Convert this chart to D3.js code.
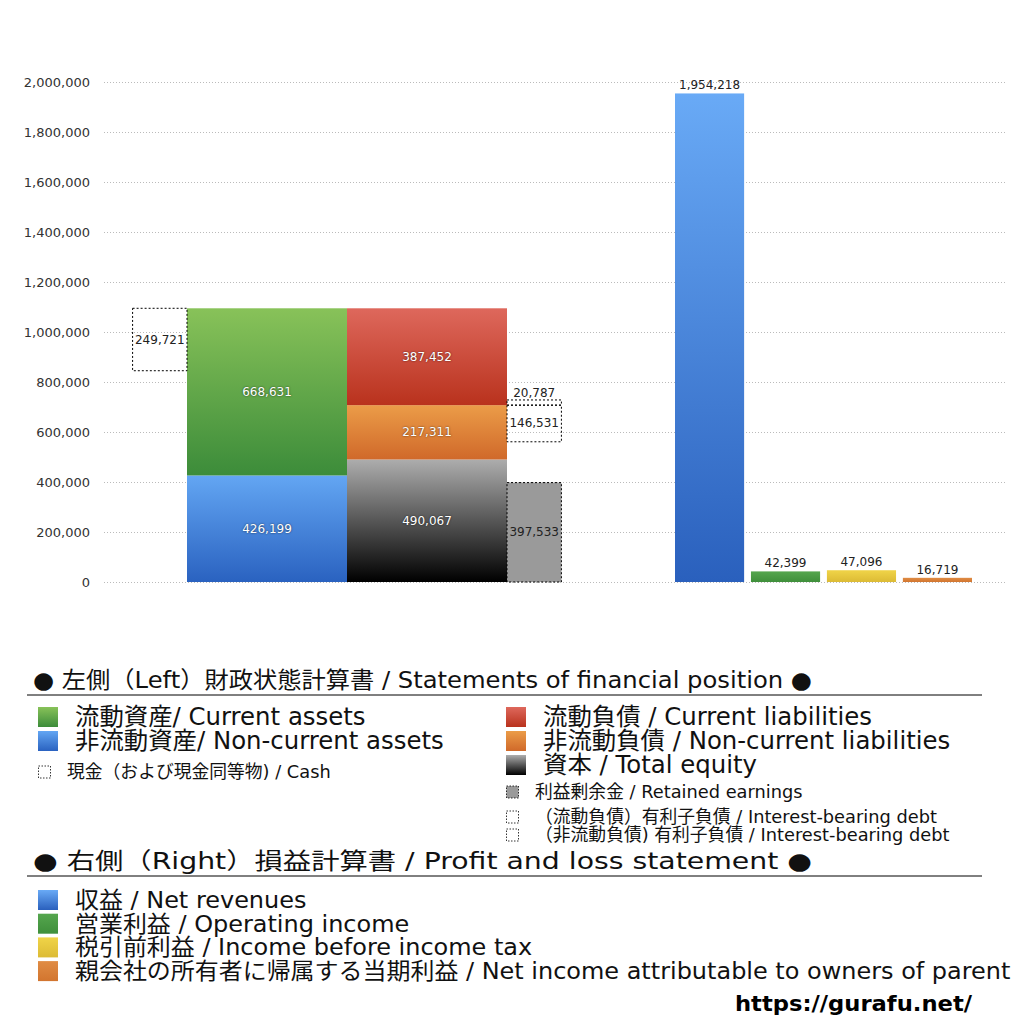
<!DOCTYPE html>
<html>
<head>
<meta charset="utf-8">
<script src="https://cdn.jsdelivr.net/npm/d3@7"></script>
<style>
  body { margin: 0; background: #fff; }
  svg { font-family: "DejaVu Sans", "Noto Sans CJK JP", sans-serif; }
</style>
</head>
<body>
<svg id="chart" width="1024" height="1024"></svg>
<script>
// balance sheet (left)
bsColumns = ["assets", "liabilities"];
assetNames = ["非流動資産/ Non-current assets", "流動資産/ Current assets"];
assetValues = [426199, 668631];
liabNames = ["資本 / Total equity", "非流動負債 / Non-current liabilities", "流動負債 /  Current liabilities"];
liabValues = [490067, 217311, 387452];
cashValue = 249721;
retainedValue = 397533;
debtCurrentValue = 20787;
debtNonCurrentValue = 146531;

// profit and loss (right)
plNames = ["収益 / Net revenues", "営業利益 / Operating income", "税引前利益 / Income before income tax", "親会社の所有者に帰属する当期利益 / Net income attributable to owners of parent"];
plValues = [1954218, 42399, 47096, 16719];

yTicks = [0, 200000, 400000, 600000, 800000, 1000000, 1200000, 1400000, 1600000, 1800000, 2000000];

margin = {top: 82, right: 19, bottom: 442, left: 104};
W = 1024; H = 1024;

const svg = d3.select("#chart");
const fmt = d3.format(",");

// gradients
const grads = {
    green: ["#88c259", "#3c8c3a"],
    blue: ["#63a6f3", "#2a62c0"],
    red: ["#de685c", "#b9321d"],
    orange: ["#eb9c48", "#d0692a"],
    black: ["#adadad", "#000000"],
    plBlue: ["#69aaf6", "#2a60bd"],
    plGreen: ["#55a64e", "#3f8f3b"],
    plYellow: ["#f0d448", "#dcbb35"],
    plOrange: ["#e08c44", "#d2752f"]
};
const defs = svg.append("defs");
Object.entries(grads).forEach(([k, c]) => {
    const g = defs.append("linearGradient").attr("id", "g-" + k)
        .attr("x1", 0).attr("y1", 0).attr("x2", 0).attr("y2", 1);
    g.append("stop").attr("offset", "0%").attr("stop-color", c[0]);
    g.append("stop").attr("offset", "100%").attr("stop-color", c[1]);
});

y = d3.scaleLinear()
    .domain([0, 2000000])
    .range([H - margin.bottom, margin.top]);

xLeft = d3.scaleBand()
    .domain(bsColumns)
    .range([187, 507])
    .padding(0);

xRight = d3.scaleBand()
    .domain(plNames)
    .range([675, 972])
    .paddingInner(0.09)
    .paddingOuter(0);

// grid
svg.append("g")
    .attr("transform", `translate(${margin.left},0)`)
    .call(d3.axisLeft(y).tickValues(yTicks).tickSize(-(W - margin.left - margin.right)).tickFormat(""))
    .call(g => g.select(".domain").remove())
    .call(g => g.selectAll("line").attr("stroke", "#bbb").attr("stroke-dasharray", "1,2"));

// y axis labels
svg.append("g")
    .attr("transform", `translate(${margin.left},0)`)
    .call(d3.axisLeft(y).tickValues(yTicks).tickSize(0).tickPadding(14).tickFormat(fmt))
    .call(g => g.select(".domain").remove())
    .call(g => g.selectAll("text").attr("font-size", 13).attr("fill", "#333")
        .attr("font-family", "'DejaVu Sans', sans-serif"));

function stackOf(values) {
    const ends = d3.cumsum(values);
    return values.map((v, i) => ({v: v, y0: ends[i] - v, y1: ends[i]}));
}

const assetSegs = stackOf(assetValues).map((d, i) => Object.assign(d, {col: "assets", fill: ["blue", "green"][i]}));
const liabSegs = stackOf(liabValues).map((d, i) => Object.assign(d, {col: "liabilities", fill: ["black", "orange", "red"][i]}));
const segs = assetSegs.concat(liabSegs);

const bw = xLeft.bandwidth();
const sideW = bw * 0.34;

svg.append("g").selectAll("rect")
    .data(segs)
    .join("rect")
    .attr("x", d => xLeft(d.col))
    .attr("width", bw)
    .attr("y", d => y(d.y1))
    .attr("height", d => y(d.y0) - y(d.y1))
    .attr("fill", d => `url(#g-${d.fill})`);

svg.append("g").selectAll("text")
    .data(segs)
    .join("text")
    .attr("x", d => xLeft(d.col) + bw / 2)
    .attr("y", d => y((d.y0 + d.y1) / 2) + 4)
    .attr("text-anchor", "middle")
    .attr("font-size", 12)
    .attr("fill", "#fff")
    .style("text-shadow", "0 0 2px rgba(0,0,0,0.7)")
    .text(d => fmt(d.v));

// dashed boxes: cash, interest-bearing debt, retained earnings
const assetTotal = d3.sum(assetValues);
const ncLiabTop = liabValues[0] + liabValues[1];
const boxes = [
    {v: cashValue, y1: assetTotal, y0: assetTotal - cashValue, x: xLeft("assets") - sideW, fill: "none", lab: "in"},
    {v: debtCurrentValue, y0: ncLiabTop, y1: ncLiabTop + debtCurrentValue, x: xLeft("liabilities") + bw, fill: "none", lab: "above"},
    {v: debtNonCurrentValue, y1: ncLiabTop, y0: ncLiabTop - debtNonCurrentValue, x: xLeft("liabilities") + bw, fill: "none", lab: "in"},
    {v: retainedValue, y0: 0, y1: retainedValue, x: xLeft("liabilities") + bw, fill: "#9a9a9a", lab: "in"}
];

svg.append("g").selectAll("rect")
    .data(boxes)
    .join("rect")
    .attr("x", d => d.x)
    .attr("width", sideW)
    .attr("y", d => y(d.y1))
    .attr("height", d => y(d.y0) - y(d.y1))
    .attr("fill", d => d.fill)
    .attr("stroke", "#000")
    .attr("stroke-width", 1)
    .attr("stroke-dasharray", "2,2");

svg.append("g").selectAll("text")
    .data(boxes)
    .join("text")
    .attr("x", d => d.x + sideW / 2)
    .attr("y", d => d.lab == "in" ? y((d.y0 + d.y1) / 2) + 4 : y(d.y1) - 3)
    .attr("text-anchor", "middle")
    .attr("font-size", 12)
    .attr("fill", "#222")
    .text(d => fmt(d.v));

// profit and loss bars
const plFills = ["plBlue", "plGreen", "plYellow", "plOrange"];
svg.append("g").selectAll("rect")
    .data(plValues)
    .join("rect")
    .attr("x", (d, i) => xRight(plNames[i]))
    .attr("width", xRight.bandwidth())
    .attr("y", d => y(d))
    .attr("height", d => y(0) - y(d))
    .attr("fill", (d, i) => `url(#g-${plFills[i]})`);

svg.append("g").selectAll("text")
    .data(plValues)
    .join("text")
    .attr("x", (d, i) => xRight(plNames[i]) + xRight.bandwidth() / 2)
    .attr("y", d => y(d) - 4)
    .attr("text-anchor", "middle")
    .attr("font-size", 12)
    .attr("fill", "#222")
    .text(d => fmt(d));

// legends
function header(text, yPos) {
    svg.append("text")
        .text(text)
        .attr("x", 33).attr("y", yPos)
        .attr("font-size", 23)
        .attr("fill", "#111")
        .attr("textLength", 779)
        .attr("lengthAdjust", "spacingAndGlyphs");
    svg.append("line")
        .attr("x1", 27).attr("x2", 982)
        .attr("y1", yPos + 7).attr("y2", yPos + 7)
        .attr("stroke", "#000").attr("stroke-width", 1);
}

function bigItem(g, x, yc, fill, text, size) {
    g.append("rect").attr("x", x).attr("y", yc - 10).attr("width", 20).attr("height", 20)
        .attr("fill", `url(#g-${fill})`);
    g.append("text").text(text).attr("x", x + 37).attr("y", yc + 8)
        .attr("font-size", size).attr("fill", "#111");
}

function smallItem(x, yc, fill, text) {
    svg.append("rect").attr("x", x + 0.5).attr("y", yc - 6).attr("width", 12).attr("height", 12)
        .attr("fill", fill).attr("stroke", "#000").attr("stroke-width", 0.8)
        .attr("stroke-dasharray", "1.5,1.5");
    svg.append("text").text(text).attr("x", x + 29).attr("y", yc + 6)
        .attr("font-size", 17.8).attr("fill", "#111");
}

header("● 左側（Left）財政状態計算書 / Statements of financial position ●", 688);

const bsLeg = svg.append("g");
bigItem(bsLeg, 38, 717, "green", assetNames[1], 24.4);
bigItem(bsLeg, 38, 741, "blue", assetNames[0], 24.4);
smallItem(38, 772, "none", "現金（および現金同等物) / Cash");

bigItem(bsLeg, 506, 717, "red", liabNames[2], 24.4);
bigItem(bsLeg, 506, 741, "orange", liabNames[1], 24.4);
bigItem(bsLeg, 506, 765, "black", liabNames[0], 24.4);
smallItem(506, 792, "#9a9a9a", "利益剰余金 / Retained earnings");
smallItem(506, 817, "none", "（流動負債）有利子負債 / Interest-bearing debt");
smallItem(506, 835, "none", "（非流動負債) 有利子負債 / Interest-bearing debt");

header("● 右側（Right）損益計算書 / Profit and loss statement ●", 869);

const plLeg = svg.append("g");
plNames.forEach((n, i) => bigItem(plLeg, 38, 900 + i * 23.7, plFills[i], n, 22.5));
// the reference squeezes these lines horizontally
const lastW = plLeg.selectAll("text").nodes()[3].getComputedTextLength();
const k = 936 / lastW;
plLeg.selectAll("text").attr("transform", function () {
    const x0 = +d3.select(this).attr("x");
    return `translate(${x0},0) scale(${k},1) translate(${-x0},0)`;
});

svg.append("text")
    .text("https://gurafu.net/")
    .attr("x", 735).attr("y", 1011)
    .attr("font-size", 22)
    .attr("font-weight", "bold")
    .attr("fill", "#000")
    .attr("textLength", 237)
    .attr("lengthAdjust", "spacingAndGlyphs");
</script>
</body>
</html>
